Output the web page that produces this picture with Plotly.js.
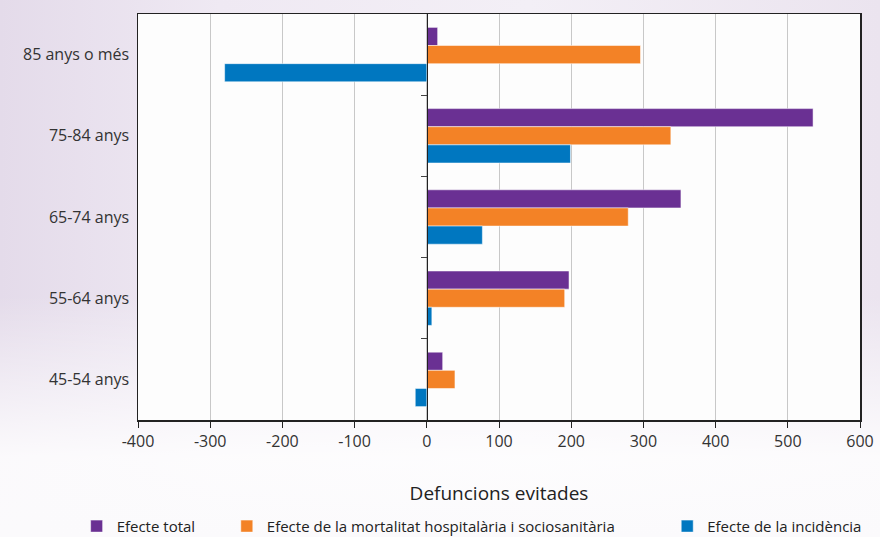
<!DOCTYPE html>
<html>
<head>
<meta charset="utf-8">
<script src="https://cdn.plot.ly/plotly-3.0.1.min.js"></script>
<style>
html,body{margin:0;padding:0;}
body{width:880px;height:537px;overflow:hidden;
background: linear-gradient(180deg, rgba(255,255,255,0) 55%, rgba(255,255,255,0.85) 85%, #fbfafc 100%),
 linear-gradient(90deg, #e4dbea 0%, #efe9f3 25%, #f3eff6 60%, #ebe4ef 100%);}
#chart{width:880px;height:537px;}
</style>
</head>
<body>
<div id="chart"></div>
<script>
const categories = ["85 anys o més", "75-84 anys", "65-74 anys", "55-64 anys", "45-54 anys"];
const efecteTotal = [15, 535, 352, 197, 22];
const efecteMortalitat = [296, 338, 279, 191, 39];
const efecteIncidencia = [-280, 199, 77, 7, -16];
const seriesNames = ["Efecte total", "Efecte de la mortalitat hospitalària i sociosanitària", "Efecte de la incidència"];
const xTicks = [-400, -300, -200, -100, 0, 100, 200, 300, 400, 500, 600];
const boundaryTicks = [0.5, 1.5, 2.5, 3.5];

const colors = ["#6a3093", "#f38226", "#0077c0"];
const font = "Open Sans, Noto Sans, sans-serif";

function bar(vals, i, legendId) {
  return {
    type: "bar", orientation: "h", y: categories, x: vals, name: seriesNames[i],
    marker: {color: colors[i], line: {color: "rgba(255,255,255,0.5)", width: 1}},
    legend: legendId, hoverinfo: "x+y"
  };
}

const traces = [
  bar(efecteTotal, 0, "legend"),
  bar(efecteMortalitat, 1, "legend2"),
  bar(efecteIncidencia, 2, "legend3"),
  {type: "scatter", x: [null], y: [null], yaxis: "y2", showlegend: false, hoverinfo: "skip"}
];

const legendCommon = {orientation: "h", yanchor: "middle", xanchor: "left",
  font: {family: font, size: 15, color: "#222"}, bgcolor: "rgba(0,0,0,0)", itemwidth: 30};

const layout = {
  width: 880, height: 537,
  margin: {l: 138, r: 20, t: 14, b: 117, autoexpand: false},
  paper_bgcolor: "rgba(0,0,0,0)",
  plot_bgcolor: "#fdfdfd",
  barmode: "group",
  bargap: 0.33,
  bargroupgap: 0,
  font: {family: font, color: "#333"},
  xaxis: {
    range: [-400, 600], tickvals: xTicks, ticktext: xTicks.map(String),
    showgrid: true, gridcolor: "#c8c8c8", gridwidth: 1, zeroline: false,
    showline: true, linecolor: "#222", linewidth: 1.5, mirror: true,
    ticks: "outside", ticklen: 6, tickcolor: "#222",
    tickfont: {family: font, size: 16, color: "#333"},
    automargin: false,
    title: {text: "Defuncions evitades", font: {family: font, size: 19, color: "#222"}, standoff: 36}
  },
  yaxis: {
    type: "category", categoryorder: "array", categoryarray: categories,
    autorange: "reversed",
    showgrid: false, zeroline: false, automargin: false,
    showline: true, linecolor: "#222", linewidth: 1.5, mirror: true,
    ticks: "", tickfont: {family: font, size: 16, color: "#333"}, ticksuffix: " "
  },
  yaxis2: {
    overlaying: "y", anchor: "free", position: 0.4, side: "left", automargin: false,
    range: [4.5, -0.5], tickvals: boundaryTicks, showticklabels: false,
    ticks: "outside", ticklen: 6, tickcolor: "#444",
    showline: true, linecolor: "#222", linewidth: 1, showgrid: false, zeroline: false
  },
  legend: Object.assign({}, legendCommon, {x: -0.085, y: -0.262}),
  legend2: Object.assign({}, legendCommon, {x: 0.123, y: -0.262}),
  legend3: Object.assign({}, legendCommon, {x: 0.733, y: -0.262}),
  showlegend: true
};

Plotly.newPlot("chart", traces, layout, {displayModeBar: false, staticPlot: true});
</script>
</body>
</html>
